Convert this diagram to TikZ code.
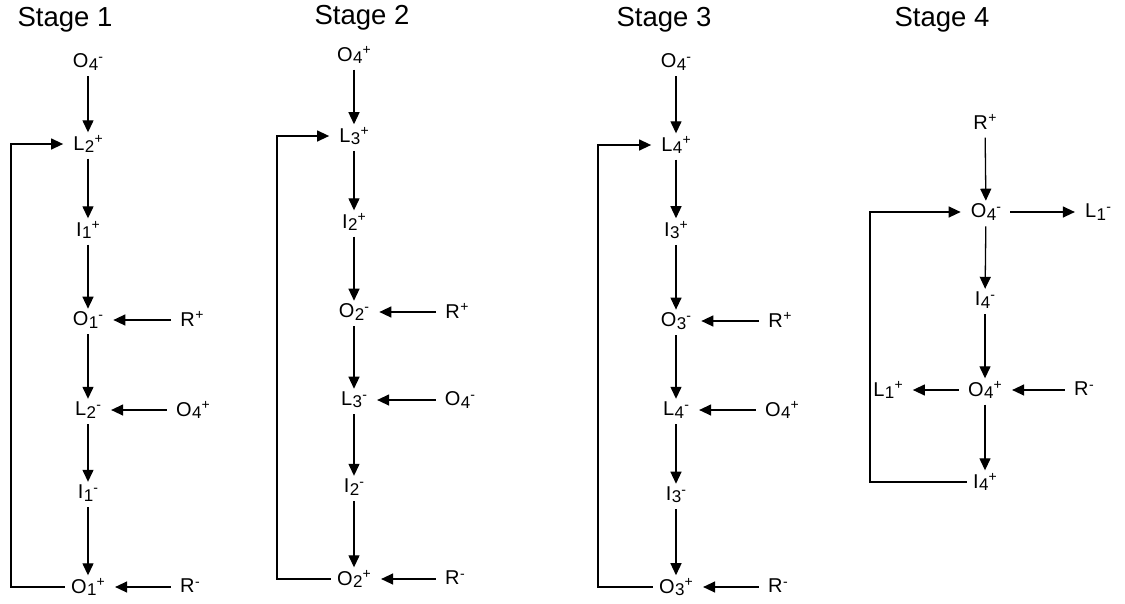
\documentclass[tikz,border=0pt]{standalone}
\usepackage{fontspec}
\setmainfont{Liberation Sans}
\usetikzlibrary{arrows.meta}
\newcommand\ionlab[3]{#1\kern0.02em{\fontsize{17}{17}\selectfont\raisebox{-0.25ex}{#2}}\kern0.01em{\fontsize{14}{14}\selectfont\raisebox{0.9ex}{#3}}}
\tikzset{
  lab/.style={font=\fontsize{20}{22}\selectfont, inner sep=1pt},
  ttl/.style={font=\fontsize{27.5}{30}\selectfont, inner sep=0pt},
  arr/.style={-{Triangle[length=12pt,width=11pt]}, line width=1.3pt},
  varr/.style={arr, shorten <=5pt, shorten >=2pt},
  harr/.style={arr, shorten <=8pt, shorten >=9pt},
  loopl/.style={arr, shorten <=5pt, shorten >=9pt}
}
\begin{document}
\begin{tikzpicture}[x=1pt,y=-1pt]
\useasboundingbox (0,0) rectangle (1125,603);
% ---------- Stage 1 ----------
\node[ttl] (t1) at (65,20) {Stage 1};
\node[lab] (a1) at (88,62) {\ionlab{O}{4}{-}};
\node[lab] (b1) at (88,144) {\ionlab{L}{2}{+}};
\node[lab] (c1) at (88,230) {\ionlab{I}{1}{+}};
\node[lab] (d1) at (88,320) {\ionlab{O}{1}{-}};
\node[lab] (e1) at (88,410) {\ionlab{L}{2}{-}};
\node[lab] (f1) at (88,493) {\ionlab{I}{1}{-}};
\node[lab] (g1) at (88,587) {\ionlab{O}{1}{+}};
\node[lab] (r1a) at (192,320) {\ionlab{R}{}{+}};
\node[lab] (r1b) at (193,410) {\ionlab{O}{4}{+}};
\node[lab] (r1c) at (190,587) {\ionlab{R}{}{-}};
\coordinate (x1) at (11,0);
\draw[varr] (a1) -- (b1);
\draw[varr] (b1) -- (c1);
\draw[varr] (c1) -- (d1);
\draw[varr] (d1) -- (e1);
\draw[varr] (e1) -- (f1);
\draw[varr] (f1) -- (g1);
\draw[harr] (r1a) -- (d1);
\draw[harr] (r1b) -- (e1);
\draw[harr] (r1c) -- (g1);
\draw[loopl] (g1.west) -- (g1.west -| x1) |- (b1.west);
% ---------- Stage 2 ----------
\node[ttl] (t2) at (362,18) {Stage 2};
\node[lab] (a2) at (354,55) {\ionlab{O}{4}{+}};
\node[lab] (b2) at (354,136) {\ionlab{L}{3}{+}};
\node[lab] (c2) at (354,222) {\ionlab{I}{2}{+}};
\node[lab] (d2) at (354,312) {\ionlab{O}{2}{-}};
\node[lab] (e2) at (354,400) {\ionlab{L}{3}{-}};
\node[lab] (f2) at (354,487) {\ionlab{I}{2}{-}};
\node[lab] (g2) at (354,579) {\ionlab{O}{2}{+}};
\node[lab] (r2a) at (457,312) {\ionlab{R}{}{+}};
\node[lab] (r2b) at (460,400) {\ionlab{O}{4}{-}};
\node[lab] (r2c) at (455,579) {\ionlab{R}{}{-}};
\coordinate (x2) at (277,0);
\draw[varr] (a2) -- (b2);
\draw[varr] (b2) -- (c2);
\draw[varr] (c2) -- (d2);
\draw[varr] (d2) -- (e2);
\draw[varr] (e2) -- (f2);
\draw[varr] (f2) -- (g2);
\draw[harr] (r2a) -- (d2);
\draw[harr] (r2b) -- (e2);
\draw[harr] (r2c) -- (g2);
\draw[loopl] (g2.west) -- (g2.west -| x2) |- (b2.west);
% ---------- Stage 3 ----------
\node[ttl] (t3) at (664,20) {Stage 3};
\node[lab] (a3) at (676,62) {\ionlab{O}{4}{-}};
\node[lab] (b3) at (676,145) {\ionlab{L}{4}{+}};
\node[lab] (c3) at (676,230) {\ionlab{I}{3}{+}};
\node[lab] (d3) at (676,321) {\ionlab{O}{3}{-}};
\node[lab] (e3) at (676,410) {\ionlab{L}{4}{-}};
\node[lab] (f3) at (676,495) {\ionlab{I}{3}{-}};
\node[lab] (g3) at (676,587) {\ionlab{O}{3}{+}};
\node[lab] (r3a) at (780,321) {\ionlab{R}{}{+}};
\node[lab] (r3b) at (782,410) {\ionlab{O}{4}{+}};
\node[lab] (r3c) at (778,587) {\ionlab{R}{}{-}};
\coordinate (x3) at (598,0);
\draw[varr] (a3) -- (b3);
\draw[varr] (b3) -- (c3);
\draw[varr] (c3) -- (d3);
\draw[varr] (d3) -- (e3);
\draw[varr] (e3) -- (f3);
\draw[varr] (f3) -- (g3);
\draw[harr] (r3a) -- (d3);
\draw[harr] (r3b) -- (e3);
\draw[harr] (r3c) -- (g3);
\draw[loopl] (g3.west) -- (g3.west -| x3) |- (b3.west);
% ---------- Stage 4 ----------
\node[ttl] (t4) at (942,20) {Stage 4};
\node[lab] (a4) at (985,123) {\ionlab{R}{}{+}};
\node[lab] (b4) at (986,212) {\ionlab{O}{4}{-}};
\node[lab] (c4) at (1098,212) {\ionlab{L}{1}{-}};
\node[lab] (d4) at (985,300) {\ionlab{I}{4}{-}};
\node[lab] (e4) at (985,390) {\ionlab{O}{4}{+}};
\node[lab] (f4) at (888,390) {\ionlab{L}{1}{+}};
\node[lab] (g4) at (1084,390) {\ionlab{R}{}{-}};
\node[lab] (h4) at (985,482) {\ionlab{I}{4}{+}};
\coordinate (x4) at (870,0);
\draw[varr] (a4) -- (b4);
\draw[varr] (b4) -- (d4);
\draw[varr] (d4) -- (e4);
\draw[varr] (e4) -- (h4);
\draw[harr] (b4) -- (c4);
\draw[harr] (e4) -- (f4);
\draw[harr] (g4) -- (e4);
\draw[loopl] (h4.west) -- (h4.west -| x4) |- (b4.west);
\end{tikzpicture}
\end{document}
